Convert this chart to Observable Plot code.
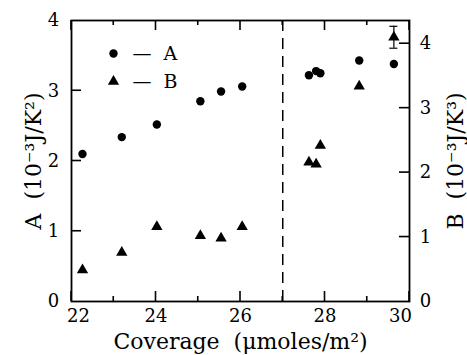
<!DOCTYPE html>
<html>
<head>
<meta charset="utf-8">
<script src="https://cdn.jsdelivr.net/npm/d3@7"></script>
<script src="https://cdn.jsdelivr.net/npm/@observablehq/plot@0.6"></script>
<style>
  html, body { margin: 0; padding: 0; background: #fff; }
  svg { display: block; }
</style>
</head>
<body>
<div id="chart"></div>
<script>
// Data
const coverage = [22.26, 23.19, 24.02, 25.05, 25.54, 26.04, 27.62, 27.79, 27.89, 28.81, 29.63];
const seriesA  = [2.10, 2.34, 2.52, 2.85, 2.99, 3.06, 3.22, 3.28, 3.25, 3.43, 3.38];
const seriesB  = [0.49, 0.76, 1.16, 1.02, 0.98, 1.16, 2.16, 2.13, 2.42, 3.34, 4.10];
const errorB   = [{x: 29.63, lo: 3.93, hi: 4.27}];
const xTickLabels = [22, 24, 26, 28, 30];
const xMinor = [23, 25, 27, 29];
const yLeftTicks = [0, 1, 2, 3, 4];
const yRightTicks = [0, 1, 2, 3, 4];
const phaseBoundary = [27];

const xMin = 22, xMax = 30;
const leftMax = 4, rightMax = 4.36;
const k = leftMax / rightMax; // right-axis value -> left-axis units

const rows = coverage.map((x, i) => ({x, a: seriesA[i], b: seriesB[i]}));
const font = "DejaVu Serif";

const W = 467, H = 355, mT = 20, mR = 58, mB = 54, mL = 71;
const fw = W - mL - mR, fh = H - mT - mB; // frame size in px
const major = 10, minor = 5, half = 0.8;  // tick lengths and half-thickness in px
const py = p => p * leftMax / fh;         // px -> y units
const pxx = p => p * (xMax - xMin) / fw;  // px -> x units

// inward ticks as thin filled rectangles, built from the tick values
const vTick = (v, y1, y2) => ({x1: v - pxx(half), x2: v + pxx(half), y1, y2});
const hTick = (v, x1, x2) => ({x1, x2, y1: v - py(half), y2: v + py(half)});
const tickRects = [
  ...xTickLabels.map(v => vTick(v, 0, py(major))),
  ...xMinor.map(v => vTick(v, 0, py(minor))),
  ...xTickLabels.map(v => vTick(v, leftMax - py(major), leftMax)),
  ...xMinor.map(v => vTick(v, leftMax - py(minor), leftMax)),
  ...yLeftTicks.slice(1, 4).map(v => hTick(v, xMin, xMin + pxx(major))),
  ...yRightTicks.slice(1).map(v => hTick(v * k, xMax - pxx(major), xMax))
];

const chart = Plot.plot({
  width: W,
  height: H,
  marginTop: mT,
  marginRight: mR,
  marginBottom: mB,
  marginLeft: mL,
  style: {fontFamily: font, background: "#fff", color: "#000"},
  x: {domain: [xMin, xMax], axis: null},
  y: {domain: [0, leftMax], axis: null},
  marks: [
    Plot.ruleX(phaseBoundary, {stroke: "#000", strokeWidth: 1.5, strokeDasharray: "11,7"}),
    Plot.rect(tickRects, {x1: "x1", x2: "x2", y1: "y1", y2: "y2", fill: "#000"}),
    Plot.frame({stroke: "#000", strokeWidth: 1.8}),
    // tick labels
    Plot.text(xTickLabels.slice(1, 4), {x: d => d, frameAnchor: "bottom", dy: 15, lineAnchor: "middle", fontSize: 18, text: d => String(d), fill: "#000"}),
    Plot.text([xTickLabels[0]], {x: d => d, frameAnchor: "bottom", dy: 15, dx: 7, lineAnchor: "middle", fontSize: 18, text: d => String(d), fill: "#000"}),
    Plot.text([xTickLabels[4]], {x: d => d, frameAnchor: "bottom", dy: 15, dx: -9, lineAnchor: "middle", fontSize: 18, text: d => String(d), fill: "#000"}),
    Plot.text(yLeftTicks, {y: d => d, frameAnchor: "left", dx: -18, textAnchor: "middle", lineAnchor: "middle", fontSize: 18, text: d => String(d), fill: "#000"}),
    Plot.text(yRightTicks, {y: d => d * k, frameAnchor: "right", dx: 16, textAnchor: "middle", lineAnchor: "middle", fontSize: 18, text: d => String(d), fill: "#000"}),
    // axis titles
    Plot.text(["Coverage  (μmoles/m²)"], {frameAnchor: "bottom", dy: 40, lineAnchor: "middle", textAnchor: "middle", fontSize: 22, letterSpacing: 2.8, fill: "#000"}),
    Plot.text(["A  (10⁻³J/K²)"], {frameAnchor: "left", dx: -38, rotate: -90, textAnchor: "middle", lineAnchor: "middle", fontSize: 22, letterSpacing: 2.5, fill: "#000"}),
    Plot.text(["B  (10⁻³J/K³)"], {frameAnchor: "right", dx: 46, rotate: -90, textAnchor: "middle", lineAnchor: "middle", fontSize: 22, letterSpacing: 2.5, fill: "#000"}),
    // data
    Plot.dot(rows, {x: "x", y: "a", r: 4.2, fill: "#000", stroke: "none"}),
    Plot.ruleX(errorB, {x: "x", y1: d => d.lo * k, y2: d => d.hi * k, stroke: "#000", strokeWidth: 1.2}),
    Plot.ruleY(errorB.flatMap(d => [d.lo, d.hi].map(v => ({x: d.x, v}))), {y: d => d.v * k, x1: "x", x2: "x", insetLeft: -4, insetRight: -4, stroke: "#000", strokeWidth: 1.2}),
    Plot.dot(rows, {x: "x", y: d => d.b * k, symbol: "triangle", r: 4.2, fill: "#000", stroke: "none"}),
    // legend
    Plot.dot([0], {frameAnchor: "top-left", dx: 42, dy: 33, r: 4.2, fill: "#000", stroke: "none"}),
    Plot.dot([0], {frameAnchor: "top-left", dx: 42, dy: 61, r: 4.2, symbol: "triangle", fill: "#000", stroke: "none"}),
    Plot.text(["—  A"], {frameAnchor: "top-left", dx: 61, dy: 33, textAnchor: "start", lineAnchor: "middle", fontSize: 19, fill: "#000"}),
    Plot.text(["—  B"], {frameAnchor: "top-left", dx: 61, dy: 61, textAnchor: "start", lineAnchor: "middle", fontSize: 19, fill: "#000"})
  ]
});
document.getElementById("chart").appendChild(chart);
</script>
</body>
</html>
